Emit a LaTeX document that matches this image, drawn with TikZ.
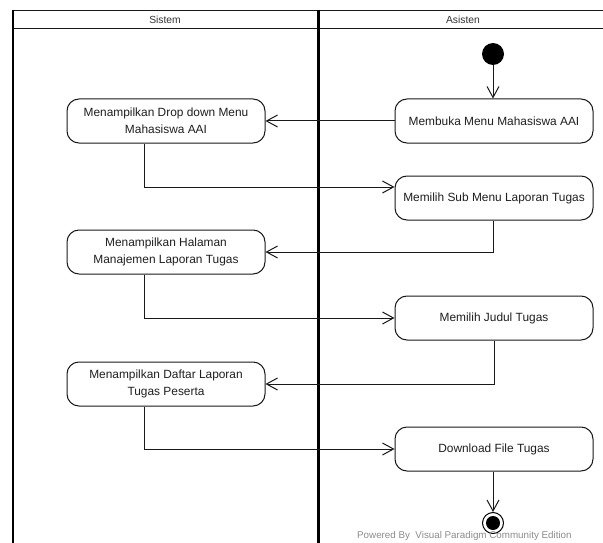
\documentclass[tikz,border=0pt]{standalone}
\usepackage{fontspec}
\setmainfont{Liberation Sans}
\usetikzlibrary{arrows.meta,calc}
\begin{document}
\begin{tikzpicture}[x=1pt,y=-1pt,
  act/.style={draw=black!90,line width=1pt,rounded corners=12pt,minimum width=198pt,minimum height=44pt,
    align=center,inner sep=2pt,font=\fontsize{11.9}{17}\selectfont,text=black!88},
  flow/.style={draw=black!90,line width=1pt,-{Straight Barb[length=11pt,width=12pt,line width=1pt]}},
  lane/.style={draw=black,line width=2.2pt},
  lanethin/.style={draw=black!90,line width=1.5pt},
  hdr/.style={font=\fontsize{10.3}{12}\selectfont,text=black!80}]
\useasboundingbox (0,0) rectangle (603,543);
\fill[white] (0,0) rectangle (603,543);
% swimlanes
\draw[lanethin] (12,10.5) -- (603,10.5);
\draw[lanethin] (12,28.5) -- (603,28.5);
\draw[lane] (13,10) -- (13,543);
\draw[lane] (318.5,10) -- (318.5,543);
\node[hdr] (h1) at (165,19.5) {Sistem};
\node[hdr] (h2) at (463,19.5) {Asisten};
% nodes
\node[circle,fill=black,minimum size=22pt,inner sep=0pt] (start) at (493,54) {};
\node[act] (n1) at (494,121) {Membuka Menu Mahasiswa AAI};
\node[act] (n2) at (166,121) {Menampilkan Drop down Menu\\Mahasiswa AAI};
\node[act] (n3) at (494,198) {Memilih Sub Menu Laporan Tugas};
\node[act] (n4) at (166,252) {Menampilkan Halaman\\Manajemen Laporan Tugas};
\node[act] (n5) at (494,318) {Memilih Judul Tugas};
\node[act] (n6) at (166,384) {Menampilkan Daftar Laporan\\Tugas Peserta};
\node[act] (n7) at (494,449) {Download File Tugas};
\node[circle,draw=black,line width=1pt,fill=white,minimum size=21pt,inner sep=0pt] (end) at (493,523) {};
\fill[black] (end.center) circle (7pt);
% flows
\draw[flow] (start) -- (start |- n1.north);
\draw[flow] (n1.west) -- (n2.east);
\draw[flow] ([xshift=-22pt]n2.south) |- ([yshift=11pt]n3.west);
\draw[flow] ([xshift=-1pt]n3.south) |- (n4.east);
\draw[flow] ([xshift=-22pt]n4.south) |- (n5.west);
\draw[flow] (n5.south) |- (n6.east);
\draw[flow] ([xshift=-22pt]n6.south) |- (n7.west);
\draw[flow] ([xshift=-1pt]n7.south) -- (end.north);
% watermark text
\node[anchor=base west,font=\fontsize{9.8}{11}\selectfont,text=black!45,inner sep=0pt] (wm) at (357,538) {Powered By\ \ Visual Paradigm Community Edition};
\end{tikzpicture}
\end{document}
